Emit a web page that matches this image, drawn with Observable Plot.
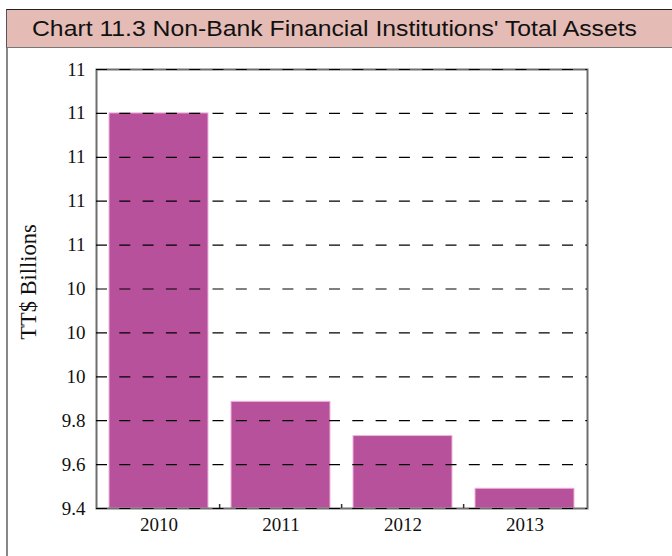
<!DOCTYPE html>
<html>
<head>
<meta charset="utf-8">
<script src="https://cdn.jsdelivr.net/npm/d3@7"></script>
<script src="https://cdn.jsdelivr.net/npm/@observablehq/plot@0.6"></script>
<style>
  body { margin: 0; background: #fff; }
  #wrap { position: relative; width: 672px; height: 556px; overflow: hidden; }
  #title {
    position: absolute; left: 6px; top: 9px; right: 0; height: 37px;
    background: #e5bbb5; border-top: 1.5px solid #222; border-left: 1.5px solid #555;
    border-bottom: 1.5px solid #777;
    font: 22.5px "Liberation Sans", Arial, Helvetica, sans-serif; color: #111;
    line-height: 38px; padding-left: 25px; white-space: nowrap;
  }
  #title span { display: inline-block; transform: scaleX(1.1); transform-origin: left center; }
  #leftline { position: absolute; left: 6px; top: 48px; bottom: 0; width: 2px; background: #888; }
  #chart { position: absolute; left: 0; top: 47px; }
</style>
</head>
<body>
<div id="wrap">
  <div id="title"><span>Chart 11.3 Non-Bank Financial Institutions' Total Assets</span></div>
  <div id="leftline"></div>
  <div id="chart"></div>
</div>
<script>
const years = ["2010", "2011", "2012", "2013"];
const assets = [11.2, 9.886, 9.73, 9.49];
const yTicks = [9.4, 9.6, 9.8, 10.0, 10.2, 10.4, 10.6, 10.8, 11.0, 11.2, 11.4];
const yTickLabels = ["9.4", "9.6", "9.8", "10", "10", "10", "11", "11", "11", "11", "11"];
const yLabel = "TT$ Billions";

const data = years.map((year, i) => ({year, value: assets[i]}));
const yMin = yTicks[0], yMax = yTicks[yTicks.length - 1];

const W = 672, H = 509, mL = 96, mR = 85, mT = 22, mB = 48;
const step = (W - mL - mR) / years.length;
const frameH = H - mT - mB;

const plot = Plot.plot({
  width: W, height: H,
  marginLeft: mL, marginRight: mR, marginTop: mT, marginBottom: mB,
  style: {fontFamily: "'Liberation Serif', 'Times New Roman', serif", fontSize: "19px", color: "#111", background: "transparent"},
  x: {domain: years, paddingInner: 0.19, paddingOuter: 0.095},
  y: {domain: [yMin, yMax]},
  marks: [
    Plot.barY(data, {x: "year", y1: yMin, y2: "value", fill: "#b8519b", stroke: "#eeb4dc", strokeWidth: 1}),
    Plot.frame({stroke: "#6e6e6e", strokeWidth: 2}),
    Plot.ruleY(yTicks, {stroke: "#000", strokeWidth: 1.2, strokeDasharray: "11,12.3"}),
    Plot.ruleX(years.slice(1), {x: d => d, dx: -step / 2, insetTop: frameH - 4, stroke: "#333", strokeWidth: 1.5}),
    Plot.axisY({ticks: yTicks, tickFormat: (d, i) => yTickLabels[i], tickSize: 0, tickPadding: 11, fontSize: 19, label: null}),
    Plot.axisX({tickSize: 0, tickPadding: 9, fontSize: 19, label: null}),
    Plot.text([yLabel], {frameAnchor: "left", textAnchor: "middle", rotate: -90, dx: -68, dy: -7, fontSize: 22.5, fill: "#111"})
  ]
});
document.getElementById("chart").appendChild(plot);
</script>
</body>
</html>
